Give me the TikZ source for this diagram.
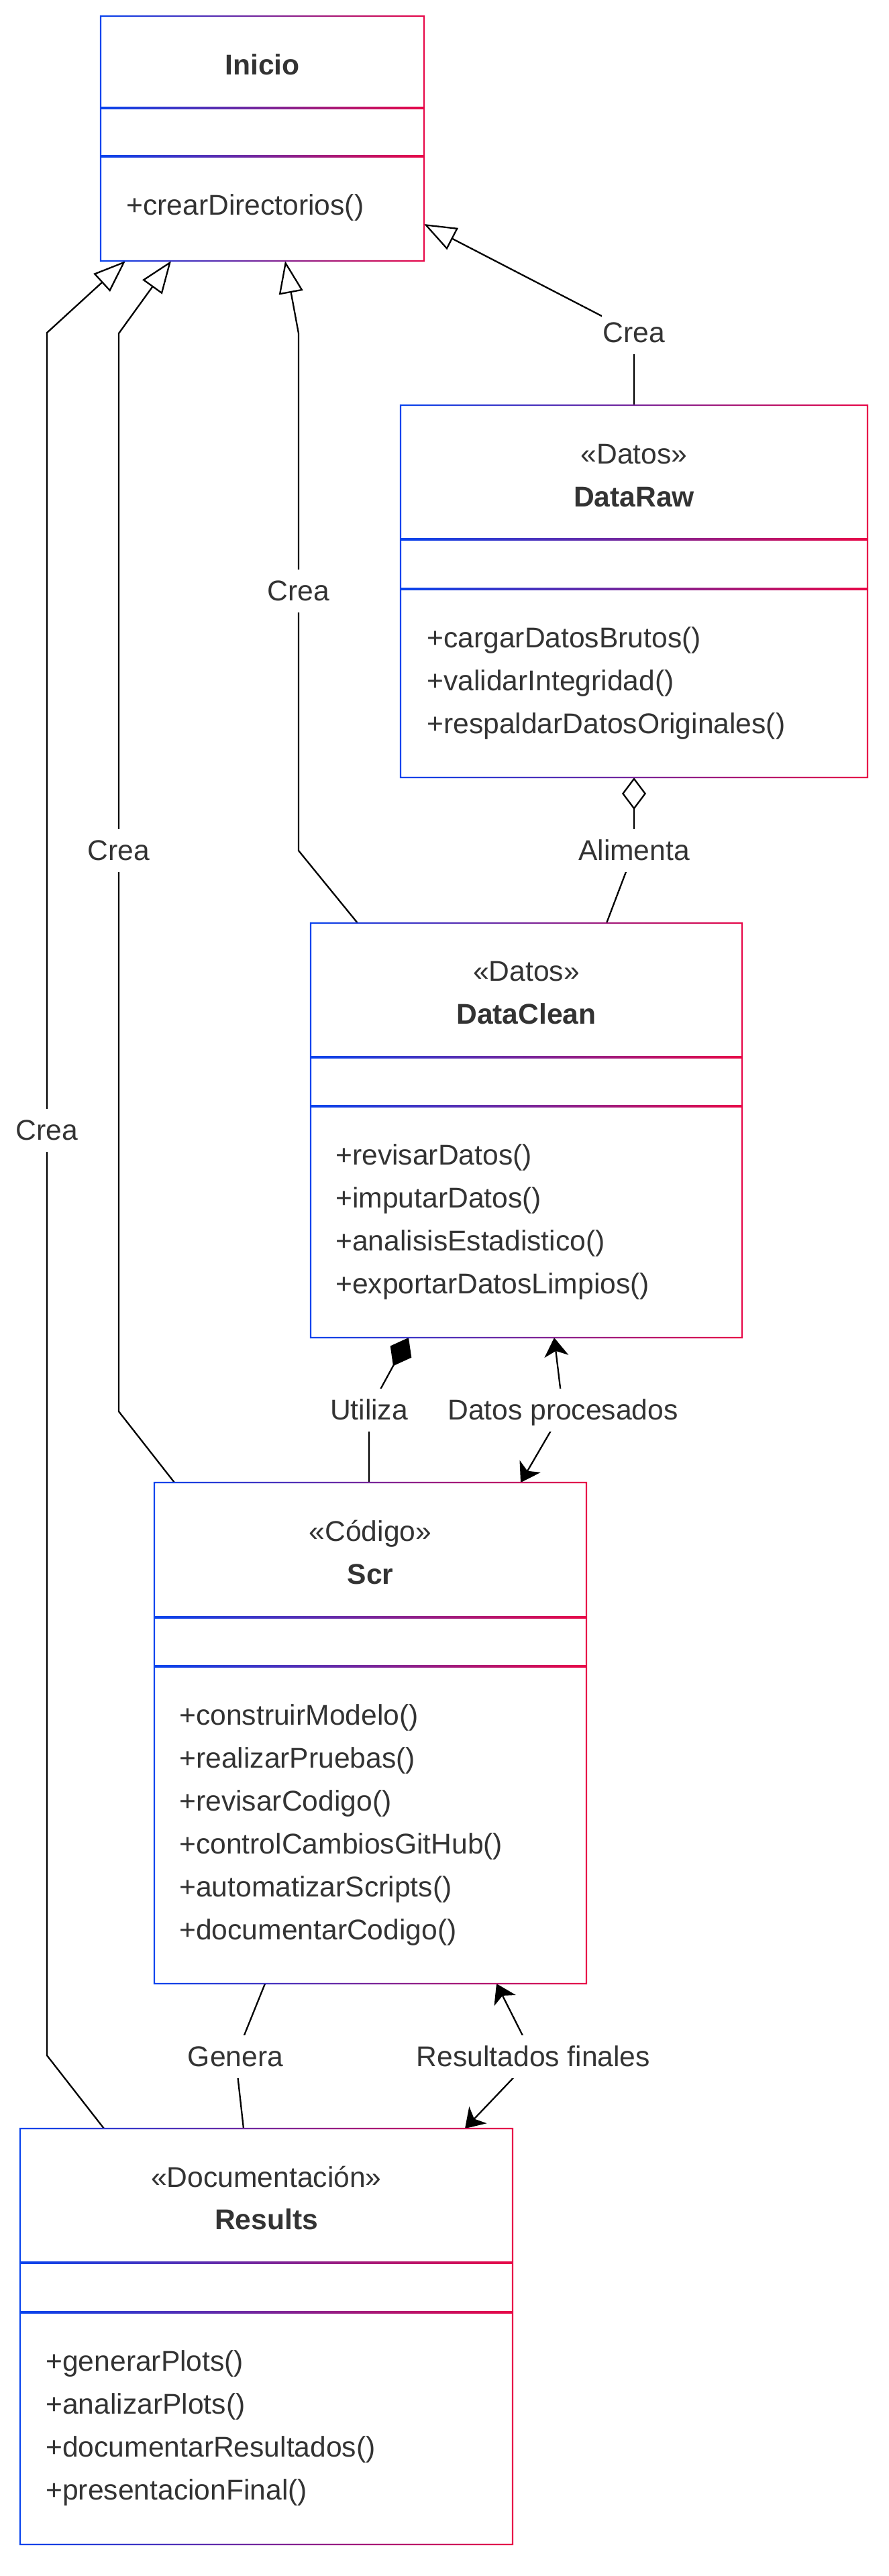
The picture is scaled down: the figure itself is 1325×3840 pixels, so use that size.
\documentclass[tikz,border=0pt]{standalone}
\usepackage{fontspec}
\setmainfont{Liberation Sans}
\usepackage{tikz}
\usetikzlibrary{arrows.meta,calc,backgrounds}
\definecolor{umlblue}{RGB}{8,68,238}
\definecolor{umlred}{RGB}{232,8,72}
\definecolor{umltext}{RGB}{51,51,51}
\tikzset{
        classbox/.style = {rectangle, inner sep=0pt, outer sep=0pt},
        stereo/.style = {text=umltext, inner sep=0pt,
            font=\fontsize{21.3pt}{25pt}\selectfont,
            text height=17.3pt, text depth=2.5pt},
        classname/.style = {stereo, font=\fontsize{21.3pt}{25pt}\selectfont\bfseries},
        methods/.style = {text=umltext, inner sep=0pt, anchor=west, align=left,
            font=\fontsize{21.3pt}{32pt}\selectfont},
        conn/.style = {draw, black, line width=1.15pt},
        inherit/.style = {conn, -{Triangle[open, length=24pt, width=18pt]}},
        aggreg/.style = {conn, {Diamond[open, length=24pt, width=18pt]}-},
        compos/.style = {conn, -{Diamond[length=24pt, width=18pt]}},
        assoc/.style = {conn, {Stealth[length=14pt, width=18pt, inset=4pt]}-{Stealth[length=14pt, width=18pt, inset=4pt]}},
    }
% marco con degradado y separadores de compartimentos
\newcommand{\classframe}[3]{%
  \shade[left color=umlblue, right color=umlred, even odd rule]
    ($(#1.north west)+(-1.15,-1.15)$) rectangle ($(#1.south east)+(1.15,1.15)$)
    ($(#1.north west)+(1.15,1.15)$) rectangle ($(#1.south east)+(-1.15,-1.15)$);
  \foreach \d in {#2,#3}
    \shade[left color=umlblue, right color=umlred]
      ($(#1.north west)+(0,\d-1.15)$) rectangle ($(#1.north east)+(0,\d+1.15)$);
}

\begin{document}
\begin{tikzpicture}[x=0.5pt, y=-0.5pt]
		\tikzstyle{lbl}=[text=umltext, fill=white, font=\fontsize{21.3pt}{25pt}\selectfont, text height=17.3pt, text depth=2.5pt, inner xsep=1pt, inner ysep=6pt]
		\useasboundingbox (0,0) rectangle (1325,3840);
		\node[classbox, minimum width=241pt, minimum height=182.5pt]    (Inicio)    at (391,206.5)   {};
		\node[classbox, minimum width=348pt, minimum height=277.5pt]    (DataRaw)   at (945,881.5)   {};
		\node[classbox, minimum width=321.5pt, minimum height=309pt]    (DataClean) at (784.5,1685)  {};
		\node[classbox, minimum width=322pt, minimum height=373.5pt]    (Scr)       at (552,2583.5)  {};
		\node[classbox, minimum width=367pt, minimum height=310pt]      (Results)   at (397,3483)    {};
		\classframe{Inicio}{137}{209}
		\classframe{DataRaw}{200}{274}
		\classframe{DataClean}{200}{273}
		\classframe{Scr}{201}{274}
		\classframe{Results}{200}{274}

		\node[classname] (InicioNm) at ($(Inicio.north)+(0,73)$) {Inicio};
		\node[methods]   (InicioMt) at ($(Inicio.north west)+(38,285)$) {+crearDirectorios()};

		\node[stereo]    (DataRawSt) at ($(DataRaw.north)+(0,73)$)  {«Datos»};
		\node[classname] (DataRawNm) at ($(DataRaw.north)+(0,137)$) {DataRaw};
		\node[methods]   (DataRawMt) at ($(DataRaw.north west)+(39,414)$)
			{+cargarDatosBrutos()\\+validarIntegridad()\\+respaldarDatosOriginales()};

		\node[stereo]    (DataCleanSt) at ($(DataClean.north)+(0,72)$)  {«Datos»};
		\node[classname] (DataCleanNm) at ($(DataClean.north)+(0,136)$) {DataClean};
		\node[methods]   (DataCleanMt) at ($(DataClean.north west)+(37,445)$)
			{+revisarDatos()\\+imputarDatos()\\+analisisEstadistico()\\+exportarDatosLimpios()};

		\node[stereo]    (ScrSt) at ($(Scr.north)+(0,73)$)  {«Código»};
		\node[classname] (ScrNm) at ($(Scr.north)+(0,137)$) {Scr};
		\node[methods]   (ScrMt) at ($(Scr.north west)+(37,510)$)
			{+construirModelo()\\+realizarPruebas()\\+revisarCodigo()\\+controlCambiosGitHub()\\+automatizarScripts()\\+documentarCodigo()};

		\node[stereo]    (ResultsSt) at ($(Results.north)+(0,73)$)  {«Documentación»};
		\node[classname] (ResultsNm) at ($(Results.north)+(0,136)$) {Results};
		\node[methods]   (ResultsMt) at ($(Results.north west)+(38,446)$)
			{+generarPlots()\\+analizarPlots()\\+documentarResultados()\\+presentacionFinal()};

		\node[lbl] (CreaRaw)    at (945,496)   {Crea};
		\node[lbl] (CreaClean)  at (445,881)   {Crea};
		\node[lbl] (CreaScr)    at (177,1268)  {Crea};
		\node[lbl] (CreaRes)    at (70,1685)   {Crea};
		\node[lbl] (Alimenta)   at (945,1268)  {Alimenta};
		\node[lbl] (Utiliza)    at (550,2102)  {Utiliza};
		\node[lbl] (DatosProc)  at (839,2102)  {Datos procesados};
		\node[lbl] (Genera)     at (351,3066)  {Genera};
		\node[lbl] (ResFinales) at (795,3066)  {Resultados finales};

		\begin{pgfonlayer}{background}
		\draw[inherit] (DataRaw.north) -- (CreaRaw.center) -- ($(Inicio.north east)+(0,310)$);
		\draw[inherit] ($(DataClean.north west)+(70,0)$) -- ++(-88,-108) -- (CreaClean.center)
			-- ($(CreaClean)+(0,-384)$) -- ($(Inicio.south west)+(275,0)$);
		\draw[inherit] ($(Scr.north west)+(30,0)$) -- ++(-83,-106) -- (CreaScr.center)
			-- ($(CreaScr)+(0,-771)$) -- ($(Inicio.south west)+(105,0)$);
		\draw[inherit] ($(Results.north west)+(125,0)$) -- ++(-85,-109) -- (CreaRes.center)
			-- ($(CreaRes)+(0,-1189)$) -- ($(Inicio.south west)+(37,0)$);
		\draw[aggreg] (DataRaw.south) -- (Alimenta.center) -- ($(DataClean.north west)+(441,0)$);
		\draw[compos] ($(Scr.north west)+(320,0)$) -- (Utiliza.center) -- ($(DataClean.south west)+(146,0)$);
		\draw[assoc] ($(DataClean.south west)+(363,0)$) -- (DatosProc.center) -- ($(Scr.north west)+(546,0)$);
		\draw[conn] ($(Scr.south west)+(165,0)$) -- (Genera.center) -- ($(Results.north west)+(333,0)$);
		\draw[assoc] ($(Scr.south west)+(510,0)$) -- (ResFinales.center) -- ($(Results.north west)+(663,0)$);
		\end{pgfonlayer}
\end{tikzpicture}
\end{document}
